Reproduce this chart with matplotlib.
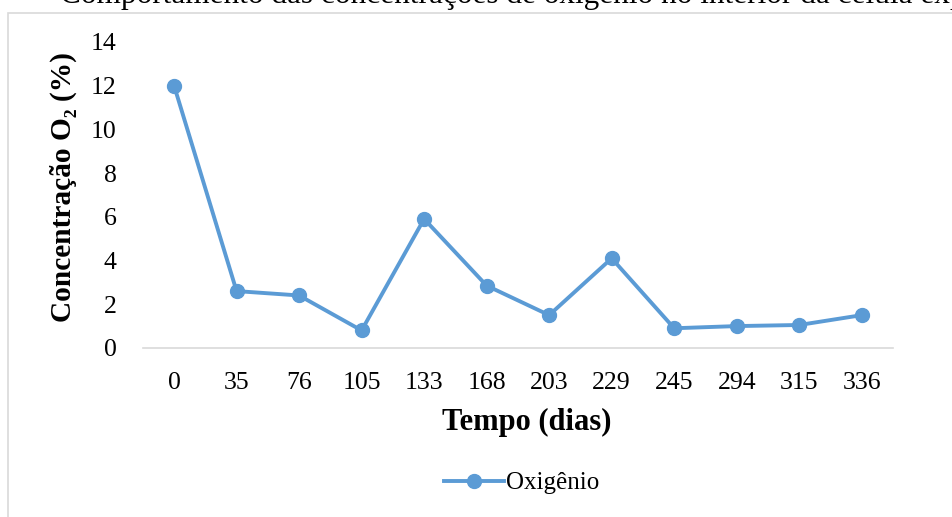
import matplotlib
matplotlib.use("Agg")
from matplotlib import pyplot as plt
from matplotlib.patches import Rectangle

plt.rcParams['font.family'] = ['Liberation Serif', 'DejaVu Serif']

tempo = ['0', '35', '76', '105', '133', '168', '203', '229', '245', '294', '315', '336']
oxigenio = [12.0, 2.6, 2.4, 0.8, 5.9, 2.85, 1.5, 4.1, 0.9, 1.0, 1.05, 1.5]

azul = '#5B9BD5'

fig = plt.figure(figsize=(9.52, 5.17), dpi=100)
ax = fig.add_axes([0.150, 0.327, 0.788, 0.592])

# caixa do grafico (cortada na imagem)
fig.patches.append(Rectangle((8 / 952, -0.1), 1.2, 1 - 13 / 517 + 0.1,
                             transform=fig.transFigure, fill=False,
                             edgecolor='#D9D9D9', linewidth=1.2))

ax.plot(range(len(tempo)), oxigenio, color=azul, linewidth=2.8,
        marker='o', markersize=10, label='Oxigênio')

ax.set_xlim(-0.5, len(tempo) - 0.5)
ax.set_ylim(0, 14)
ax.set_yticks(range(0, 15, 2))
ax.set_xticks(range(len(tempo)))
ax.set_xticklabels(tempo)
ax.tick_params(axis='both', length=0, labelsize=18.5)
ax.tick_params(axis='y', pad=19)
ax.tick_params(axis='x', pad=17)

for s in ['top', 'right', 'left']:
    ax.spines[s].set_visible(False)
ax.spines['bottom'].set_color('#D9D9D9')
ax.spines['bottom'].set_linewidth(1.2)

ax.set_xlabel('Tempo (dias)', fontsize=22, fontweight='bold')
ax.set_ylabel('Concentração O₂ (%)', fontsize=21.2, fontweight='bold')
ax.xaxis.set_label_coords(0.512, -0.195)
ax.yaxis.set_label_coords(-0.088, 0.525)

fig.text(60 / 952, 1 - 3 / 517,
         'Comportamento das concentrações de oxigênio no interior da célula experimental',
         fontsize=22.5, ha='left', va='baseline')

fig.legend(loc='center', bbox_to_anchor=(0.548, 1 - 483 / 517), frameon=False,
           fontsize=18, handlelength=2.4, handletextpad=0.1)

fig.savefig('out.png', dpi=100)
